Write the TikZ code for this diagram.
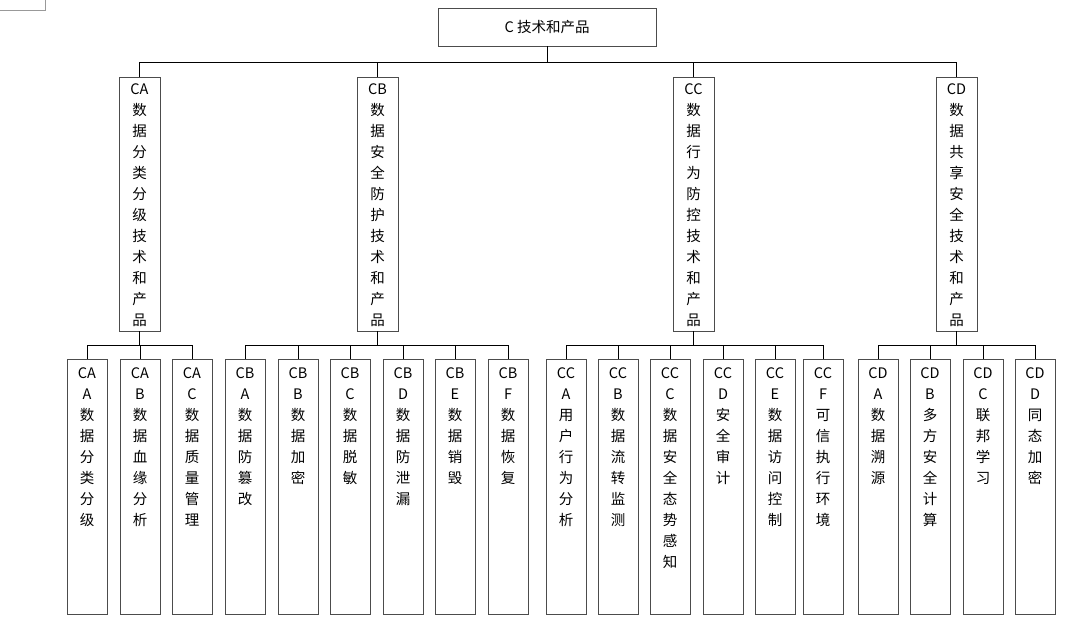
\documentclass[tikz,border=0pt]{standalone}
\usepackage{fontspec}
\newfontfamily\cjk{Noto Sans CJK SC}
\begin{document}
\begin{tikzpicture}[x=1pt,y=-1pt,
 box/.style={draw=black!70,line width=0.8pt,fill=white},
 txt/.style={font=\cjk\fontsize{14.5}{21}\selectfont,align=center,anchor=north,inner sep=0pt},
 ln/.style={line width=1pt}]
\useasboundingbox (0,0) rectangle (1072,633);
\draw[black!40] (0,10) -- (45,10) -- (45,0);
% root
\node[box,minimum width=218pt,minimum height=38pt,font=\cjk\fontsize{14.5}{18}\selectfont] (root) at (547,27) {C 技术和产品};
\newcommand{\midbox}[3]{%
 \draw[box] (#1-20.5,77) rectangle (#1+20.5,331);
 \node[txt] (#2) at (#1,83) {#3};}
\newcommand{\leaf}[3]{%
 \draw[box] (#1-20,359) rectangle (#1+20,614);
 \node[txt] (#2) at (#1,367) {#3};}
\midbox{139.5}{ca}{CA\\数\\据\\分\\类\\分\\级\\技\\术\\和\\产\\品}
\midbox{377.5}{cb}{CB\\数\\据\\安\\全\\防\\护\\技\\术\\和\\产\\品}
\midbox{693.5}{cc}{CC\\数\\据\\行\\为\\防\\控\\技\\术\\和\\产\\品}
\midbox{956.5}{cd}{CD\\数\\据\\共\\享\\安\\全\\技\\术\\和\\产\\品}
\coordinate (r1) at (547,46); \coordinate (r2) at (547,62);
\draw[ln] (r1) -- (r2);
\draw[ln] (139.5,62) -- (956.5,62);
\foreach \x in {139.5,377.5,693.5,956.5} \draw[ln] (\x,62) -- (\x,77);
% leaves
\leaf{87}{caa}{CA\\A\\数\\据\\分\\类\\分\\级}
\leaf{140}{cab}{CA\\B\\数\\据\\血\\缘\\分\\析}
\leaf{192}{cac}{CA\\C\\数\\据\\质\\量\\管\\理}
\leaf{245}{cba}{CB\\A\\数\\据\\防\\篡\\改}
\leaf{298}{cbb}{CB\\B\\数\\据\\加\\密}
\leaf{350}{cbc}{CB\\C\\数\\据\\脱\\敏}
\leaf{403}{cbd}{CB\\D\\数\\据\\防\\泄\\漏}
\leaf{455}{cbe}{CB\\E\\数\\据\\销\\毁}
\leaf{508}{cbf}{CB\\F\\数\\据\\恢\\复}
\leaf{566}{cca}{CC\\A\\用\\户\\行\\为\\分\\析}
\leaf{618}{ccb}{CC\\B\\数\\据\\流\\转\\监\\测}
\leaf{670}{ccc}{CC\\C\\数\\据\\安\\全\\态\\势\\感\\知}
\leaf{723}{ccd}{CC\\D\\安\\全\\审\\计}
\leaf{775}{cce}{CC\\E\\数\\据\\访\\问\\控\\制}
\leaf{823}{ccf}{CC\\F\\可\\信\\执\\行\\环\\境}
\leaf{878}{cda}{CD\\A\\数\\据\\溯\\源}
\leaf{930}{cdb}{CD\\B\\多\\方\\安\\全\\计\\算}
\leaf{983}{cdc}{CD\\C\\联\\邦\\学\\习}
\leaf{1035}{cdd}{CD\\D\\同\\态\\加\\密}
% buses
\newcommand{\bus}[3]{%
 \draw[ln] (#1,331) -- (#1,345);
 \draw[ln] (#2,345) -- (#3,345);}
\bus{139.5}{87}{192}
\bus{377.5}{245}{508}
\bus{693.5}{566}{823}
\bus{956.5}{878}{1035}
\foreach \x in {87,140,192,245,298,350,403,455,508,566,618,670,723,775,823,878,930,983,1035}
 \draw[ln] (\x,345) -- (\x,359);
\end{tikzpicture}
\end{document}
